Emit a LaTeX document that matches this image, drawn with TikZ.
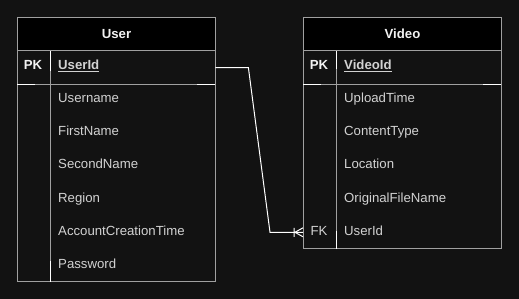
\documentclass[tikz,border=0pt]{standalone}
\usepackage{fontspec}
\setmainfont{Liberation Sans}
\usepackage{tikz}
\usetikzlibrary{positioning}
\definecolor{canvasdark}{HTML}{121212}
\definecolor{tableline}{HTML}{A0A0A0}
\definecolor{fieldtext}{HTML}{D2D2D2}
\definecolor{headtext}{HTML}{F2F2F2}
\newcommand{\erfont}{\fontsize{13.2}{16}\selectfont}

\begin{document}
\begin{tikzpicture}[x=1pt, y=-1pt,
  tablebox/.style={draw=tableline, line width=1pt, minimum width=198pt, inner sep=0pt},
  headbox/.style={tablebox, fill=black, minimum height=33pt, font=\bfseries\erfont, text=headtext},
  rowslot/.style={minimum width=198pt, minimum height=33pt, inner sep=0pt},
  field/.style={anchor=west, inner sep=0pt, text height=9.6pt, text depth=2.6pt, font=\erfont, text=fieldtext},
  keyfield/.style={inner sep=0pt, text height=9.6pt, text depth=2.6pt, font=\erfont, text=fieldtext},
  grid/.style={tableline, line width=1pt},
  partline/.style={white, line width=1pt},
  link/.style={draw=white, line width=1pt},
]

\fill[canvasdark] (0,0) rectangle (519,299);
\useasboundingbox (0,0) rectangle (519,299);

% ── User table ──
\node[tablebox, minimum height=264pt, anchor=north west] (user) at (17,17) {};
\node[headbox, anchor=north west] (userhead) at (user.north west) {User};
\node[rowslot, anchor=north west] (userpk) at (userhead.south west) {};
\draw[grid] (userpk.south west) -- (userpk.south east);
\draw[grid] ([xshift=33pt]userpk.north west) -- ([xshift=33pt]user.south west);

\node[keyfield, font=\bfseries\erfont, text=headtext] (userpkkey) at (33,66.5) {PK};
\node[field, font=\bfseries\erfont] (userid) at (58,66.5) {\underline{UserId}};
\node[field] (username) at (58,99.5) {Username};
\node[field] (firstname) at (58,132.5) {FirstName};
\node[field] (secondname) at (58,165.5) {SecondName};
\node[field] (region) at (58,198.5) {Region};
\node[field] (created) at (58,231.5) {AccountCreationTime};
\node[field] (password) at (58,264.5) {Password};

% bright bits of the row borders
\draw[partline] ([xshift=33pt]userpk.north west) -- ++(0,20);
\draw[partline] ([xshift=33pt]user.south west) -- ++(0,-21);
\draw[partline] (userpk.south west) -- ++(18,0);
\draw[partline] (userpk.south east) -- ++(-18,0);

% ── Video table ──
\node[tablebox, minimum height=231pt, anchor=north west] (video) at (303,17) {};
\node[headbox, anchor=north west] (videohead) at (video.north west) {Video};
\node[rowslot, anchor=north west] (videopk) at (videohead.south west) {};
\node[rowslot, anchor=south west] (videofk) at (video.south west) {};
\draw[grid] (videopk.south west) -- (videopk.south east);
\draw[grid] ([xshift=33pt]videopk.north west) -- ([xshift=33pt]video.south west);

\node[keyfield, font=\bfseries\erfont, text=headtext] (videopkkey) at (319,66.5) {PK};
\node[field, font=\bfseries\erfont] (videoid) at (344,66.5) {\underline{VideoId}};
\node[field] (uploadtime) at (344,99.5) {UploadTime};
\node[field] (contenttype) at (344,132.5) {ContentType};
\node[field] (location) at (344,165.5) {Location};
\node[field] (filename) at (344,198.5) {OriginalFileName};
\node[keyfield] (videofkkey) at (319,231.5) {FK};
\node[field] (videouser) at (344,231.5) {UserId};

\draw[partline] ([xshift=33pt]videopk.north west) -- ++(0,18);
\draw[partline] ([xshift=33pt]video.south west) -- ++(0,-18);
\draw[partline] (videopk.south west) -- ++(18,0);
\draw[partline] (videopk.south east) -- ++(-18,0);

% User 1 -- n Video
\draw[link] (userpk.east) -- ++(33,0) -- ([xshift=-33pt]videofk.west) -- (videofk.west);
\draw[link] ([xshift=-8pt]videofk.west) -- ([yshift=4.5pt]videofk.west)
  ([xshift=-8pt]videofk.west) -- ([yshift=-4.5pt]videofk.west)
  ([xshift=-9pt,yshift=4.5pt]videofk.west) -- ([xshift=-9pt,yshift=-4.5pt]videofk.west);

\end{tikzpicture}
\end{document}
